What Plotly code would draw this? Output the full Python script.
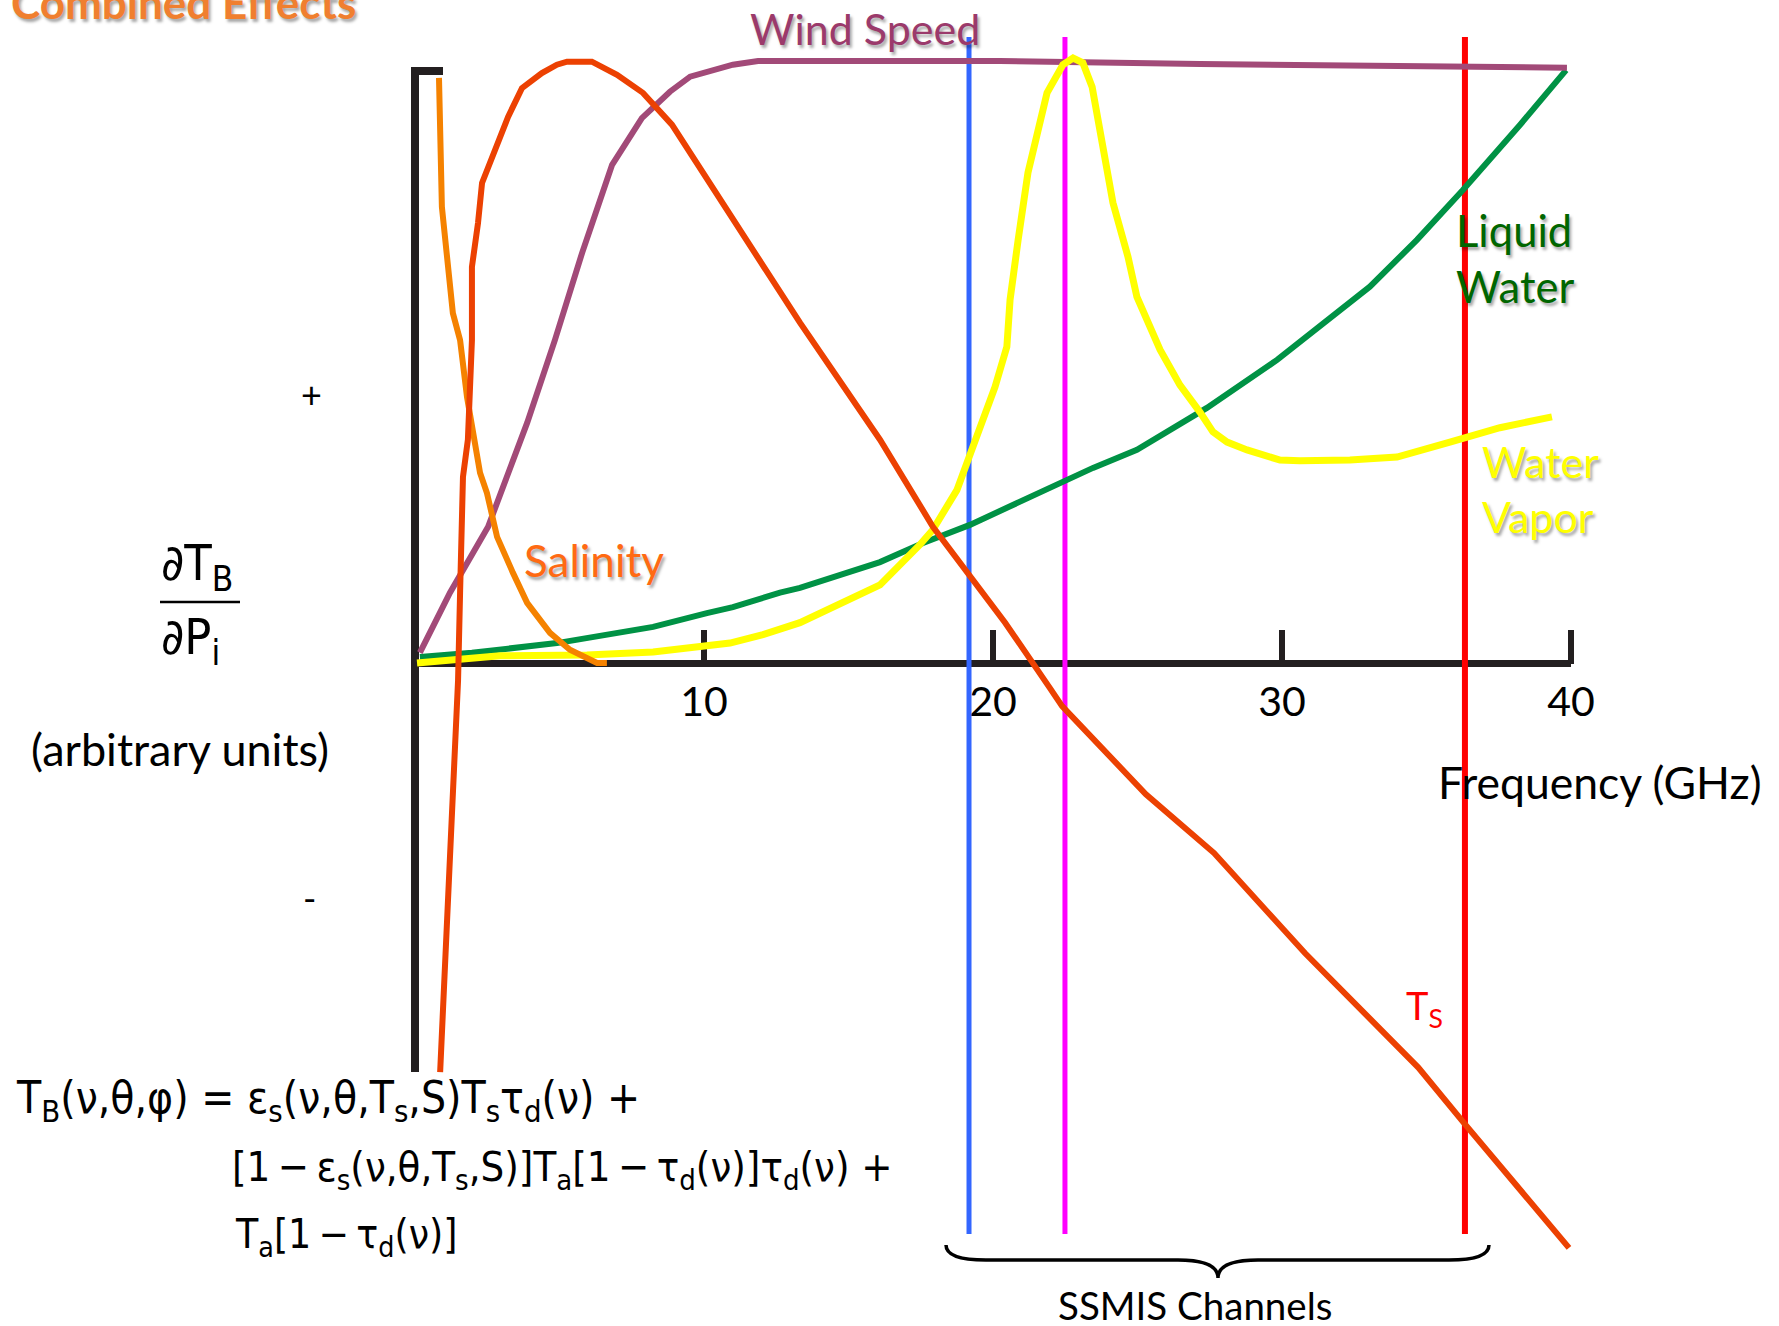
import plotly.graph_objects as go

W, H = 1779, 1326

# ---- data (frequency in GHz, sensitivity in arbitrary units) ----
salinity_freq = [0.83, 0.87, 0.93, 1.31, 1.56, 1.80, 2.25, 2.49, 2.84, 3.39, 3.88, 4.67, 5.36, 6.30, 6.64]
salinity_val = [9.76, 8.61, 7.61, 5.84, 5.39, 4.44, 3.18, 2.84, 2.11, 1.51, 1.01, 0.51, 0.23, 0.01, 0.01]

ts_freq = [0.87, 1.49, 1.56, 1.66, 1.83, 1.97, 1.97, 2.18, 2.32, 2.77, 3.22, 3.70, 4.39, 4.91,
           5.26, 6.12, 6.51, 6.99, 7.89, 8.89, 13.32, 16.09, 17.92, 19.10, 20.42, 21.97, 22.39,
           25.29, 27.65, 30.80, 34.71, 36.30, 39.93]
ts_val = [-6.81, -0.28, 1.18, 3.11, 3.73, 5.39, 6.61, 7.34, 8.01, 8.59, 9.11, 9.59, 9.84, 9.98,
          10.03, 10.03, 9.94, 9.81, 9.51, 8.98, 5.68, 3.73, 2.28, 1.51, 0.68, -0.41, -0.71,
          -2.18, -3.16, -4.83, -6.73, -7.66, -9.74]

wind_freq = [0.17, 1.21, 2.53, 3.29, 3.88, 4.84, 5.78, 6.82, 7.85, 8.82, 9.52, 11.00, 11.87,
             13.32, 20.24, 27.16, 39.86]
wind_val = [0.18, 1.18, 2.28, 3.28, 4.01, 5.39, 6.84, 8.31, 9.09, 9.53, 9.78, 9.98, 10.04,
            10.04, 10.04, 9.99, 9.93]

liquid_freq = [0.17, 1.97, 4.91, 6.75, 8.24, 10.10, 11.00, 12.63, 13.32, 16.09, 17.58, 19.20,
               22.42, 23.46, 24.98, 27.40, 29.83, 32.35, 33.04, 34.67, 36.26, 38.24, 39.83]
liquid_val = [0.11, 0.18, 0.34, 0.48, 0.61, 0.84, 0.94, 1.18, 1.26, 1.69, 2.01, 2.31,
              3.03, 3.26, 3.56, 4.26, 5.06, 6.01, 6.28, 7.06, 7.89, 8.98, 9.89]

vapor_freq = [0.07, 2.94, 5.95, 8.24, 10.90, 12.04, 13.32, 16.09, 17.47, 17.92, 18.75, 19.20,
              19.55, 20.07, 20.48, 20.59, 20.87, 21.21, 21.87, 22.42, 22.77, 23.11, 23.43,
              23.70, 24.15, 24.67, 24.98, 25.78, 26.47, 27.16, 27.61, 28.10, 28.79, 29.93,
              30.62, 32.35, 33.98, 35.81, 37.54, 39.34]
vapor_val = [0.01, 0.13, 0.14, 0.19, 0.34, 0.48, 0.68, 1.31, 1.98, 2.23, 2.89, 3.48,
             3.94, 4.61, 5.28, 6.06, 7.06, 8.18, 9.51, 9.98, 10.09, 10.01, 9.61,
             8.84, 7.68, 6.78, 6.11, 5.23, 4.64, 4.19, 3.86, 3.69, 3.56, 3.39,
             3.38, 3.39, 3.44, 3.69, 3.93, 4.11]

# SSMIS channel markers
channel_freq = [19.17, 22.49, 36.33]
channel_span = [10.44, -9.51]
channel_colors = ["#3366FF", "#FF00FF", "#FF0000"]

tick_vals = [10, 20, 30, 40]
tick_text = ["10", "20", "30", "40"]

# ---- pixel <-> axis mapping ----
X0_PX, X_PER_GHZ = 415.0, 28.9
Y0_PX, Y_PER_UNIT = 663.5, 60.0
x_range = [-X0_PX / X_PER_GHZ, (W - X0_PX) / X_PER_GHZ]
y_range = [(Y0_PX - H) / Y_PER_UNIT, Y0_PX / Y_PER_UNIT]


def gx(px):
    return (px - X0_PX) / X_PER_GHZ


def gy(py):
    return (Y0_PX - py) / Y_PER_UNIT


def pxx(px):
    return px / W


def pxy(py):
    return 1 - py / H


AXIS = "#231F20"
FONT = "Lato, 'Open Sans', sans-serif"
NARROW = "'Liberation Sans Narrow', 'Arial Narrow', 'DejaVu Sans Condensed', sans-serif"
SHADOW = "2px 3px 3px rgba(0,0,0,0.35)"

fig = go.Figure()

for f, c, w in zip(channel_freq, channel_colors, [5, 5, 6]):
    fig.add_trace(go.Scatter(x=[f, f], y=channel_span, mode="lines",
                             line=dict(color=c, width=w), hoverinfo="skip"))

curves = [
    (liquid_freq, liquid_val, "#009245", 6),
    (wind_freq, wind_val, "#A24A78", 6),
    (vapor_freq, vapor_val, "#FFFF00", 7),
    (salinity_freq, salinity_val, "#F58200", 6),
    (ts_freq, ts_val, "#EC4102", 6),
]
for xs, ys, c, w in curves:
    fig.add_trace(go.Scatter(x=xs, y=ys, mode="lines",
                             line=dict(color=c, width=w), hoverinfo="skip"))

# hand-drawn style axes
shapes = [
    dict(type="line", xref="x", yref="y", x0=0, x1=40, y0=0, y1=0,
         line=dict(color=AXIS, width=7), layer="below"),
    dict(type="path", xref="x", yref="y",
         path=f"M {gx(443)},{gy(71)} L 0,{gy(71)} L 0,{gy(1072)}",
         line=dict(color=AXIS, width=8), layer="below"),
    # fraction bar of the y label
    dict(type="line", xref="paper", yref="paper", x0=pxx(160), x1=pxx(240),
         y0=pxy(602), y1=pxy(602), line=dict(color="black", width=2.5)),
]

# brace grouping the channel markers
bl, bc, br = gx(946), gx(1218), gx(1489)
bt, bm, bb = gy(1245), gy(1260), gy(1278)
r = 40 / X_PER_GHZ
brace = (f"M {bl},{bt} Q {bl},{bm} {bl + r},{bm} L {bc - r},{bm} "
         f"Q {bc},{bm} {bc},{bb} Q {bc},{bm} {bc + r},{bm} "
         f"L {br - r},{bm} Q {br},{bm} {br},{bt}")
shapes.append(dict(type="path", xref="x", yref="y", path=brace,
                   line=dict(color="black", width=3.5)))

ann = []


def label(text, x, y, size, color="black", family=FONT, xanchor="center",
          shadow=None, yanchor="middle"):
    font = dict(family=family, size=size, color=color)
    if shadow:
        font["shadow"] = shadow
    ann.append(dict(text=text, x=pxx(x), y=pxy(y), xref="paper", yref="paper",
                    xanchor=xanchor, yanchor=yanchor, showarrow=False, font=font))


label("<b>Combined Effects</b>", 9, 2, 44, "#F07F2F", xanchor="left", shadow=SHADOW)
label("Wind Speed", 865, 28, 43, "#9B3A6B", shadow=SHADOW)
label("Salinity", 594, 560, 44, "#FF6A13", shadow=SHADOW)
label("Liquid", 1454, 230, 43.5, "#006600", xanchor="left", shadow=SHADOW)
label("Water", 1454, 286, 43.5, "#006600", xanchor="left", shadow=SHADOW)
label("Water", 1480, 461, 43, "#FFFF00", xanchor="left", shadow=SHADOW)
label("Vapor", 1480, 517, 43, "#FFFF00", xanchor="left", shadow=SHADOW)
label("T<sub>S</sub>", 1404, 1008, 38, "#FF0000", xanchor="left")
label("Frequency (GHz)", 1436, 781, 44.5, xanchor="left")
label("SSMIS Channels", 1195, 1305, 38.5)
label("(arbitrary units)", 180, 749, 45)
label("+", 311, 394, 36)
label("-", 309, 898, 36)
label("∂T<sub>B</sub>", 159, 566, 50, family=NARROW, xanchor="left")
label("∂P<sub>i</sub>", 159, 640, 50, family=NARROW, xanchor="left")

label("T<sub>B</sub>(ν,θ,φ) = ε<sub>s</sub>(ν,θ,T<sub>s</sub>,S)T<sub>s</sub>τ<sub>d</sub>(ν) +",
      14, 1100, 44, family=NARROW, xanchor="left")
label("[1\u2009−\u2009ε<sub>s</sub>(ν,θ,T<sub>s</sub>,S)]T<sub>a</sub>[1\u2009−\u2009τ<sub>d</sub>(ν)]τ<sub>d</sub>(ν) +",
      230, 1169, 41.5, family=NARROW, xanchor="left")
label("T<sub>a</sub>[1\u2009−\u2009τ<sub>d</sub>(ν)]", 233, 1237, 40.5, family=NARROW, xanchor="left")

fig.update_layout(
    width=W, height=H,
    margin=dict(l=0, r=0, t=0, b=0),
    paper_bgcolor="white", plot_bgcolor="white",
    showlegend=False,
    shapes=shapes,
    annotations=ann,
    xaxis=dict(range=x_range, domain=[0, 1], anchor="free", position=1 - Y0_PX / H,
               showgrid=False, zeroline=False, showline=False,
               tickmode="array", tickvals=tick_vals, ticktext=tick_text,
               ticks="inside", ticklen=34, tickwidth=6, tickcolor=AXIS,
               ticklabelstandoff=10,
               tickfont=dict(family=FONT, size=41, color="black"),
               layer="below traces", fixedrange=True),
    yaxis=dict(range=y_range, domain=[0, 1], visible=False, fixedrange=True),
)

fig.write_html("out.html", config={"displayModeBar": False})
